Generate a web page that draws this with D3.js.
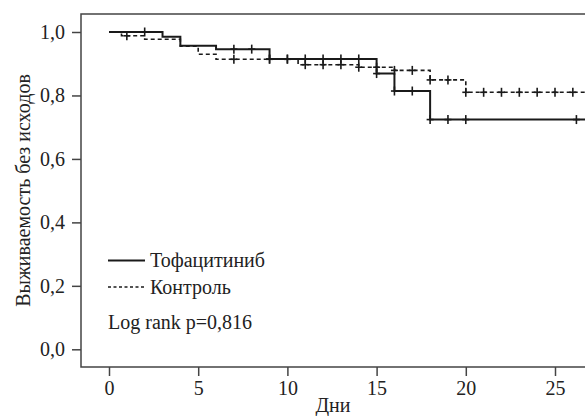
<!DOCTYPE html>
<html lang="ru">
<head>
<meta charset="UTF-8">
<title>Выживаемость без исходов</title>
<script src="https://d3js.org/d3.v7.min.js"></script>
<style>
  body { margin: 0; background: #fff; }
  text { font-family: "Liberation Serif", "Times New Roman", serif; fill: #222; }
</style>
</head>
<body>
<script>
// Тофацитиниб: step times (days) and survival after each step
var tofaTime = [0, 3, 4, 6, 9, 15, 16, 18];
var tofaSurv = [1.0, 0.985, 0.957, 0.946, 0.915, 0.869, 0.814, 0.724];
var tofaCensor = [2, 7, 8, 9, 10, 11, 12, 13, 14, 15, 16, 17, 18, 19, 20, 26.2];

// Контроль
var ctrlTime = [0, 0.7, 2, 4, 5, 6, 10.6, 14, 16, 18, 20];
var ctrlSurv = [1.0, 0.988, 0.977, 0.955, 0.93, 0.914, 0.897, 0.889, 0.879, 0.849, 0.81];
var ctrlCensor = [1, 7, 9, 10, 11, 12, 13, 14, 15, 16, 17, 18, 19, 20, 21, 22, 23, 24, 25, 26];

var xTicks = [0, 5, 10, 15, 20, 25];
var yTicks = [0, 0.2, 0.4, 0.6, 0.8, 1.0];

var W = 585, H = 416;
var svg = d3.select("body").append("svg")
    .attr("width", W)
    .attr("height", H);

var x = d3.scaleLinear().domain([0, 25]).range([109, 555]);
var y = d3.scaleLinear().domain([0, 1]).range([349.3, 32]);
var plotLeft = 81, plotTop = 14, plotBottom = 367;
var endDay = x.invert(W + 5);
var fs = "20px";

// frame (open on the right, the plot runs off the edge)
svg.append("path")
    .attr("d", "M" + (W + 5) + "," + plotTop + "H" + plotLeft + "V" + plotBottom + "H" + (W + 5))
    .attr("fill", "none")
    .attr("stroke", "#444")
    .attr("stroke-width", 1.5);

var comma = function(d) { return d3.format(".1f")(d).replace(".", ","); };

var yAxis = svg.append("g")
    .attr("transform", "translate(" + plotLeft + ",0)")
    .call(d3.axisLeft(y).tickValues(yTicks).tickFormat(comma).tickSize(9).tickPadding(7));
var xAxis = svg.append("g")
    .attr("transform", "translate(0," + plotBottom + ")")
    .call(d3.axisBottom(x).tickValues(xTicks).tickFormat(d3.format("d")).tickSize(9).tickPadding(5));

[xAxis, yAxis].forEach(function(g) {
    g.select(".domain").remove();
    g.selectAll(".tick line").attr("stroke", "#444").attr("stroke-width", 1.5);
    g.selectAll(".tick text")
        .attr("fill", "#222")
        .style("font-family", "'Liberation Serif', serif")
        .style("font-size", fs);
});

svg.append("text")
    .attr("x", (plotLeft + W) / 2)
    .attr("y", 412)
    .attr("text-anchor", "middle")
    .style("font-size", fs)
    .text("Дни");

svg.append("text")
    .attr("transform", "translate(30," + (plotTop + plotBottom) / 2 + ") rotate(-90)")
    .attr("text-anchor", "middle")
    .style("font-size", fs)
    .text("Выживаемость без исходов");

function stepPoints(times, surv) {
    var pts = times.map(function(t, i) { return [t, surv[i]]; });
    pts.push([endDay, surv[surv.length - 1]]);
    return pts;
}

function survAt(times, surv, t) {
    var v = surv[0];
    for (var i = 0; i < times.length; i++) if (times[i] <= t) v = surv[i];
    return v;
}

var line = d3.line()
    .x(function(d) { return x(d[0]); })
    .y(function(d) { return y(d[1]); })
    .curve(d3.curveStepAfter);

var plot = svg.append("g");

function drawCurve(times, surv, censor, dash, width) {
    plot.append("path")
        .datum(stepPoints(times, surv))
        .attr("d", line)
        .attr("fill", "none")
        .attr("stroke", "#1a1a1a")
        .attr("stroke-width", width)
        .attr("stroke-dasharray", dash);

    var marks = plot.append("g").selectAll("g")
        .data(censor)
        .join("g")
        .attr("transform", function(d) {
            return "translate(" + x(d) + "," + y(survAt(times, surv, d)) + ")";
        });
    marks.append("line")
        .attr("y1", -4.5).attr("y2", 4.5)
        .attr("stroke", "#1a1a1a").attr("stroke-width", 1.6);
    marks.append("line")
        .attr("x1", -3.5).attr("x2", 3.5)
        .attr("stroke", "#1a1a1a").attr("stroke-width", 1.6);
}

drawCurve(ctrlTime, ctrlSurv, ctrlCensor, "4,3", 1.6);
drawCurve(tofaTime, tofaSurv, tofaCensor, null, 2);

// legend
var legend = svg.append("g");
legend.append("line")
    .attr("x1", 108).attr("x2", 145).attr("y1", 260.5).attr("y2", 260.5)
    .attr("stroke", "#1a1a1a").attr("stroke-width", 2);
legend.append("text")
    .attr("x", 150).attr("y", 267)
    .style("font-size", fs)
    .text("Тофацитиниб");
legend.append("line")
    .attr("x1", 108).attr("x2", 145).attr("y1", 287).attr("y2", 287)
    .attr("stroke", "#1a1a1a").attr("stroke-width", 1.6)
    .attr("stroke-dasharray", "3,2.5");
legend.append("text")
    .attr("x", 150).attr("y", 293.5)
    .style("font-size", fs)
    .text("Контроль");
legend.append("text")
    .attr("x", 108).attr("y", 329)
    .style("font-size", fs)
    .text("Log rank p=0,816");
</script>
</body>
</html>
